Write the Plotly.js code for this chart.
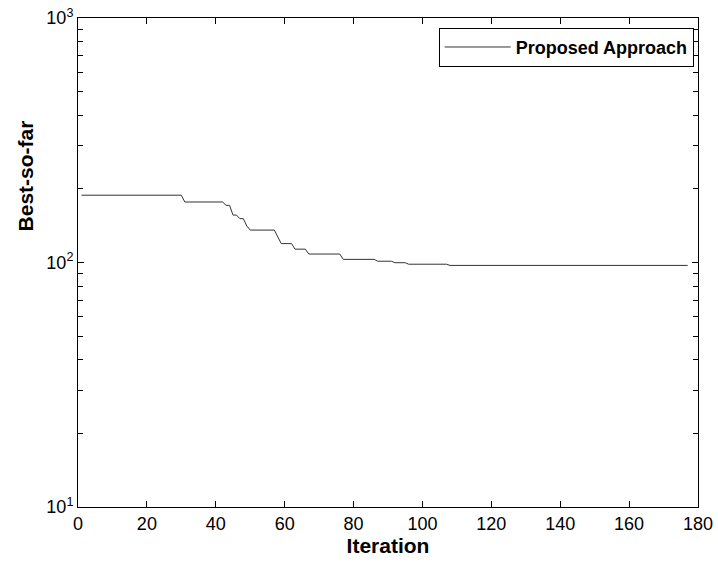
<!DOCTYPE html>
<html>
<head>
<meta charset="utf-8">
<script src="https://cdn.plot.ly/plotly-3.0.1.min.js"></script>
<style>html,body{margin:0;padding:0;background:#fff;}#chart{width:718px;height:566px;}</style>
</head>
<body>
<div id="chart"></div>
<script>
// Best-so-far values (iteration, value)
var iterations = [1, 30, 31, 42, 43, 44, 45, 46, 47, 48, 49, 50, 57, 58, 59, 62, 63, 66, 67, 76, 77, 86, 87, 91, 92, 95, 96, 107, 108, 177];
var bestSoFar  = [188.5, 188.5, 176.8, 176.8, 171.3, 171.3, 156.3, 156.3, 151.1, 151.1, 141, 135.7, 135.7, 127, 119.5, 119.5, 113.4, 113.4, 108.3, 108.3, 103, 103, 101.2, 101.2, 99.8, 99.8, 98.4, 98.4, 97.3, 97.3];
var seriesName = 'Proposed Approach';
var xTicks = [0, 20, 40, 60, 80, 100, 120, 140, 160, 180];
var yTickVals = [10, 100, 1000];
var yTickText = ['10<sup>1</sup>', '10<sup>2</sup>', '10<sup>3</sup>'];
var yMinorVals = [20, 30, 40, 50, 60, 70, 80, 90, 200, 300, 400, 500, 600, 700, 800, 900];
var xTitle = 'Iteration';
var yTitle = 'Best-so-far';

var font = 'Arial, "Liberation Sans", sans-serif';

var trace = {
  x: iterations,
  y: bestSoFar,
  type: 'scatter',
  mode: 'lines',
  name: seriesName,
  line: {color: '#333', width: 1},
  showlegend: true
};

var layout = {
  width: 718, height: 566,
  margin: {l: 78, r: 20, t: 18, b: 59, pad: 0},
  paper_bgcolor: '#fff', plot_bgcolor: '#fff',
  font: {family: font, color: '#000', size: 18},
  showlegend: true,
  legend: {
    x: 0.993, xanchor: 'right', y: 0.98, yanchor: 'top',
    bgcolor: '#fff', bordercolor: '#000', borderwidth: 1,
    font: {family: font, size: 18, color: '#000', weight: 'bold'},
    itemwidth: 66
  },
  xaxis: {
    range: [0, 180],
    tickmode: 'array', tickvals: xTicks, ticktext: xTicks.map(String),
    ticks: 'inside', ticklen: 6, tickcolor: '#000', tickwidth: 1,
    showline: true, linecolor: '#000', linewidth: 1, mirror: 'allticks',
    showgrid: false, zeroline: false,
    tickfont: {family: font, size: 18, color: '#000'},
    title: {text: '<b>' + xTitle + '</b>', font: {family: font, size: 21, color: '#000'}, standoff: 4}
  },
  yaxis: {
    type: 'log',
    range: [1, 3],
    tickmode: 'array', tickvals: yTickVals, ticktext: yTickText,
    ticks: 'inside', ticklen: 6, tickcolor: '#000', tickwidth: 1,
    minor: {tickmode: 'array', tickvals: yMinorVals, ticks: 'inside', ticklen: 5, tickcolor: '#000', showgrid: false},
    showline: true, linecolor: '#000', linewidth: 1, mirror: 'allticks',
    showgrid: false, zeroline: false,
    tickfont: {family: font, size: 18, color: '#000'}
  },
  annotations: [{
    text: '<b>' + yTitle + '</b>',
    xref: 'paper', yref: 'paper',
    x: -0.0855, y: 0.678, xanchor: 'center', yanchor: 'middle',
    textangle: -90, showarrow: false,
    font: {family: font, size: 21, color: '#000'}
  }]
};

Plotly.newPlot('chart', [trace], layout, {displayModeBar: false, staticPlot: true});
</script>
</body>
</html>
